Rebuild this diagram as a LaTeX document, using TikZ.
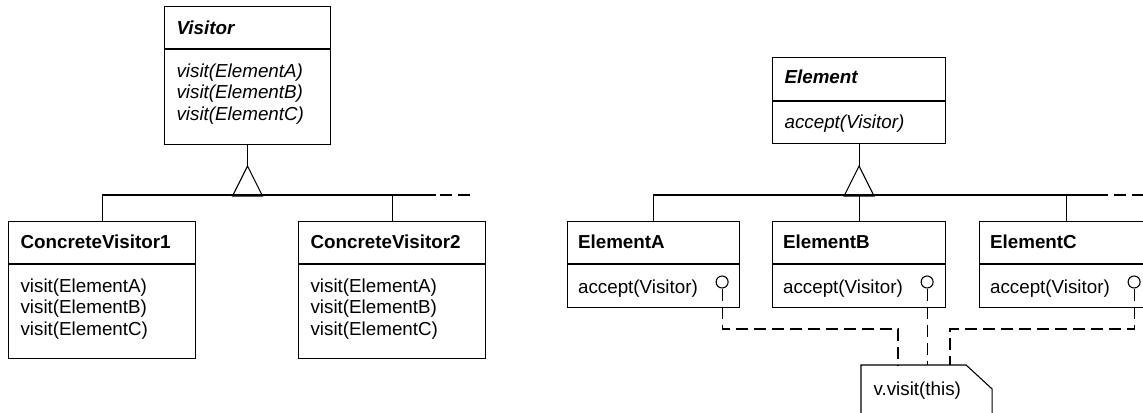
\documentclass[tikz,border=0pt]{standalone}
\usepackage{fontspec}
\setmainfont{Liberation Sans}
\usepackage{tikz}

\begin{document}
\begin{tikzpicture}[x=0.5pt,y=-0.5pt,line width=0.55pt]
\tikzstyle{every node}+=[inner sep=0pt,font=\fontsize{9.4pt}{10.75pt}\selectfont]
\tikzstyle{classbox}=[draw,rectangle,anchor=north west]
\tikzstyle{txt}=[anchor=base west]
\tikzstyle{lolly}=[draw,circle,minimum size=6pt,fill=white]
\tikzstyle{link}=[dash pattern=on 6pt off 3pt]

\useasboundingbox (0,0) rectangle (1143,412);
\clip (0,0) rectangle (1143,412);

\node [classbox,minimum width=83pt,minimum height=69pt] (visitor) at (164,6) {};
\draw ([yshift=-21.5pt]visitor.north west) -- ([yshift=-21.5pt]visitor.north east);
\node [txt] (visitorname) at ([shift={(6pt,-14pt)}]visitor.north west) {\textbf{\textit{Visitor}}};
\node [txt] (visitorA) at ([shift={(6pt,-35.5pt)}]visitor.north west) {\textit{visit(ElementA)}};
\node [txt] (visitorB) at ([shift={(6pt,-46.25pt)}]visitor.north west) {\textit{visit(ElementB)}};
\node [txt] (visitorC) at ([shift={(6pt,-57pt)}]visitor.north west) {\textit{visit(ElementC)}};

\node [classbox,minimum width=93.5pt,minimum height=68.5pt] (cv1) at (8,221) {};
\draw ([yshift=-21.5pt]cv1.north west) -- ([yshift=-21.5pt]cv1.north east);
\node [txt] (cv1name) at ([shift={(6pt,-13.5pt)}]cv1.north west) {\textbf{ConcreteVisitor1}};
\node [txt] (cv1A) at ([shift={(6pt,-35.5pt)}]cv1.north west) {visit(ElementA)};
\node [txt] (cv1B) at ([shift={(6pt,-46.25pt)}]cv1.north west) {visit(ElementB)};
\node [txt] (cv1C) at ([shift={(6pt,-57pt)}]cv1.north west) {visit(ElementC)};

\node [classbox,minimum width=93.5pt,minimum height=68.5pt] (cv2) at (298,221) {};
\draw ([yshift=-21.5pt]cv2.north west) -- ([yshift=-21.5pt]cv2.north east);
\node [txt] (cv2name) at ([shift={(6pt,-13.5pt)}]cv2.north west) {\textbf{ConcreteVisitor2}};
\node [txt] (cv2A) at ([shift={(6pt,-35.5pt)}]cv2.north west) {visit(ElementA)};
\node [txt] (cv2B) at ([shift={(6pt,-46.25pt)}]cv2.north west) {visit(ElementB)};
\node [txt] (cv2C) at ([shift={(6pt,-57pt)}]cv2.north west) {visit(ElementC)};

\coordinate (vtip) at ([yshift=-10.5pt]visitor.south);
\coordinate (vbarend) at (436,195);
\draw (visitor.south) -- (vtip);
\draw (vtip) -- ++(-15,30) -- ++(30,0) -- cycle;
\draw (cv1.north) |- (vbarend);
\draw (cv2.north) -- (cv2.north |- vbarend);
\draw [link] ([xshift=2pt]vbarend) -- ++(32,0);

\node [classbox,minimum width=86.5pt,minimum height=43pt] (element) at (772,57) {};
\draw ([yshift=-22pt]element.north west) -- ([yshift=-22pt]element.north east);
\node [txt] (elementname) at ([shift={(6pt,-13pt)}]element.north west) {\textbf{\textit{Element}}};
\node [txt] (elementacc) at ([shift={(6pt,-35.5pt)}]element.north west) {\textit{accept(Visitor)}};

\node [classbox,minimum width=86pt,minimum height=43pt] (elA) at (567,221) {};
\draw ([yshift=-21.5pt]elA.north west) -- ([yshift=-21.5pt]elA.north east);
\node [txt] (elAname) at ([shift={(5.25pt,-13.5pt)}]elA.north west) {\textbf{ElementA}};
\node [txt] (elAacc) at ([shift={(5.25pt,-36pt)}]elA.north west) {accept(Visitor)};
\node [lolly] (lollyA) at ([shift={(-9pt,-30.5pt)}]elA.north east) {};

\node [classbox,minimum width=86.5pt,minimum height=43pt] (elB) at (772,221) {};
\draw ([yshift=-21.5pt]elB.north west) -- ([yshift=-21.5pt]elB.north east);
\node [txt] (elBname) at ([shift={(5.25pt,-13.5pt)}]elB.north west) {\textbf{ElementB}};
\node [txt] (elBacc) at ([shift={(5.25pt,-36pt)}]elB.north west) {accept(Visitor)};
\node [lolly] (lollyB) at ([shift={(-9.5pt,-30.5pt)}]elB.north east) {};

\node [classbox,minimum width=86.5pt,minimum height=43pt] (elC) at (979,221) {};
\draw ([yshift=-21.5pt]elC.north west) -- ([yshift=-21.5pt]elC.north east);
\node [txt] (elCname) at ([shift={(5.25pt,-13.5pt)}]elC.north west) {\textbf{ElementC}};
\node [txt] (elCacc) at ([shift={(5.25pt,-36pt)}]elC.north west) {accept(Visitor)};
\node [lolly] (lollyC) at ([shift={(-9.5pt,-30.5pt)}]elC.north east) {};

\coordinate (etip) at ([yshift=-11pt]element.south);
\coordinate (ebarend) at (1108,195);
\draw (element.south) -- (etip);
\draw (etip) -- ++(-15,30) -- ++(30,0) -- cycle;
\draw (elA.north) |- (ebarend);
\draw (elB.north) -- (elB.north |- ebarend);
\draw (elC.north) -- (elC.north |- ebarend);
\draw [link] ([xshift=3pt]ebarend) -- ++(40,0);

\node [anchor=north west,minimum width=65pt,minimum height=30pt] (note) at (861,365) {};
\draw (note.south west) -- (note.north west) -- ([xshift=-13pt]note.north east)
  -- ([yshift=-12pt]note.north east) -- (note.south east);
\node [txt] (notetext) at ([shift={(6pt,-15pt)}]note.north west) {v.visit(this)};

\coordinate (noteA) at ([xshift=18.5pt]note.north west);
\coordinate (noteC) at ([xshift=44.5pt]note.north west);
\draw [link] (lollyA.south) |- ([yshift=18pt]noteA) -- (noteA);
\draw [link] (lollyB.south) -- (lollyB.south |- note.north);
\draw [link] (lollyC.south) |- ([yshift=18pt]noteC) -- (noteC);
\end{tikzpicture}
\end{document}
